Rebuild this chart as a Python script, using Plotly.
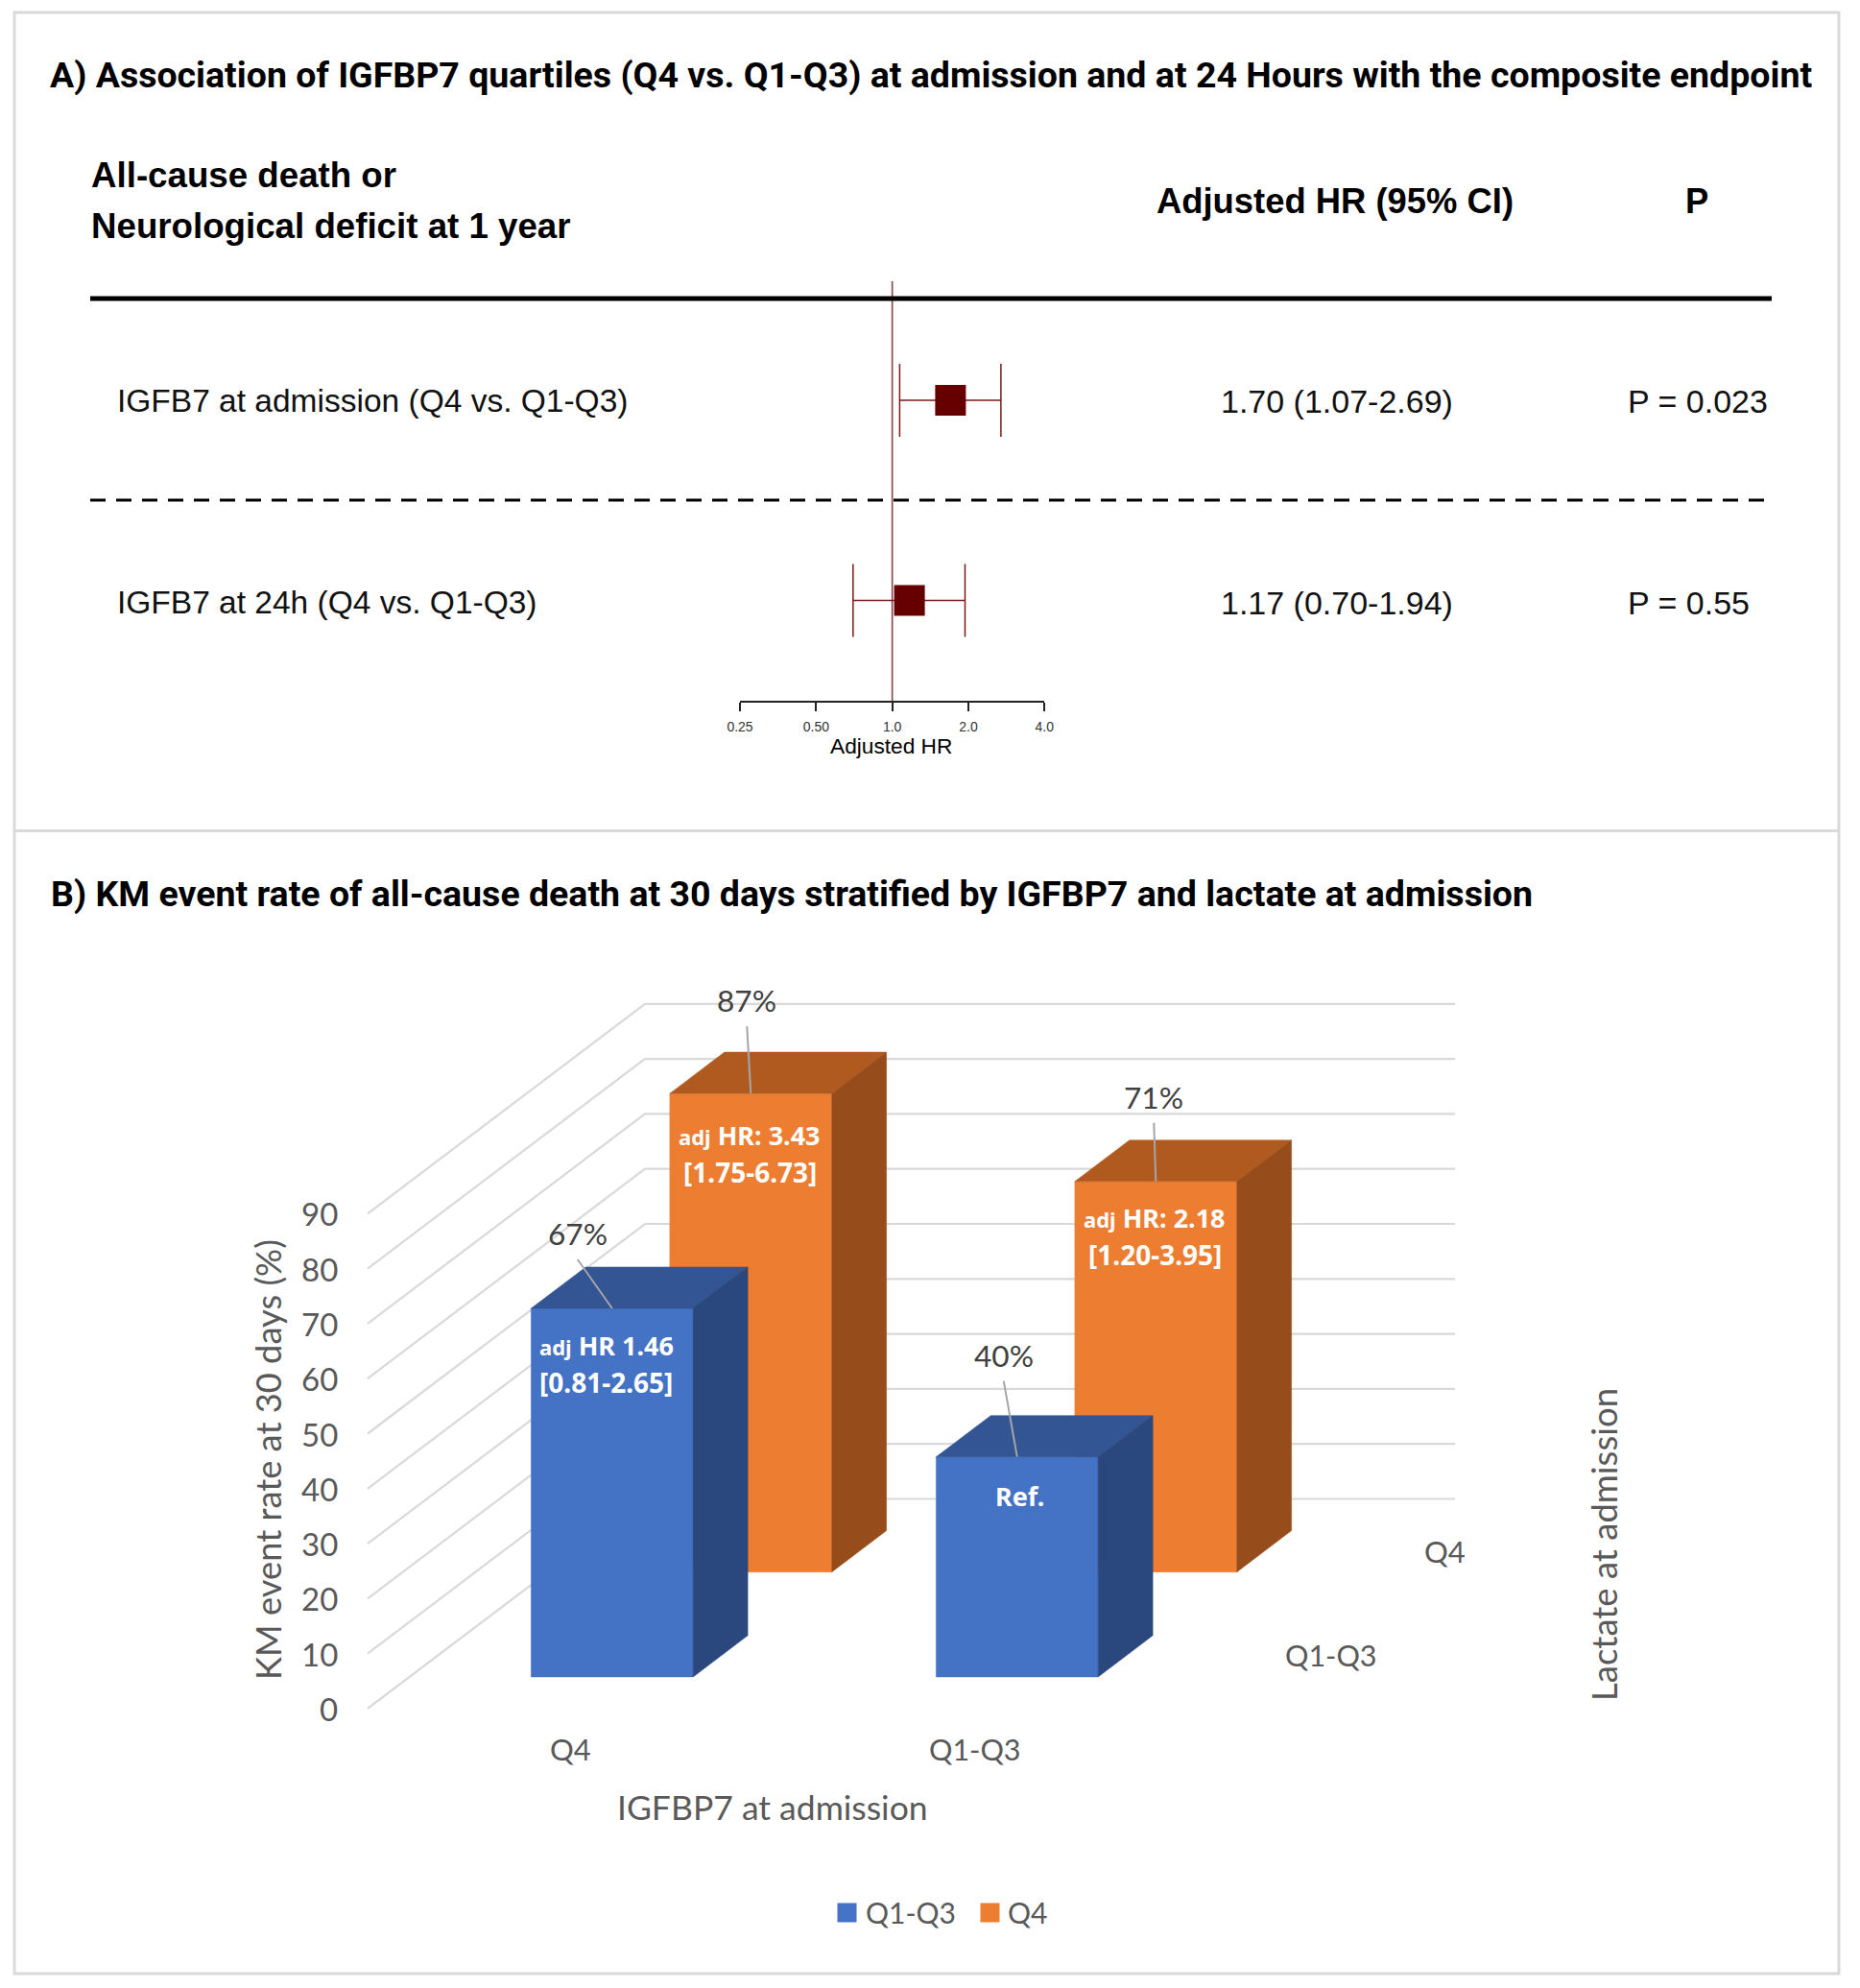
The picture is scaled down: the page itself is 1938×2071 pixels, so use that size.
import math
import plotly.graph_objects as go

# ---------- data ----------
row_labels = ["IGFB7 at admission (Q4 vs. Q1-Q3)", "IGFB7 at 24h (Q4 vs. Q1-Q3)"]
hr = [1.70, 1.17]
ci_low = [1.07, 0.70]
ci_high = [2.69, 1.94]
p_labels = ["P = 0.023", "P = 0.55"]
forest_ticks = [0.25, 0.5, 1.0, 2.0, 4.0]
forest_ticktext = ["0.25", "0.50", "1.0", "2.0", "4.0"]

igfbp7_cats = ["Q4", "Q1-Q3"]
lactate_cats = ["Q1-Q3", "Q4"]
rate_q1q3 = [67, 40]
rate_q4 = [87, 71]
grid_values = [0, 10, 20, 30, 40, 50, 60, 70, 80, 90]
ADJ = '<span style="font-size:22px">adj</span>'
hr_text_q1q3 = [[ADJ + " HR 1.46", "[0.81-2.65]"], ["Ref."]]
hr_text_q4 = [[ADJ + " HR: 3.43", "[1.75-6.73]"], [ADJ + " HR: 2.18", "[1.20-3.95]"]]

# ---------- page geometry ----------
W, H = 1938, 2071
SANS = "Liberation Sans"
ROB = "Roboto"
LAT = "Lato"
GREY = "#595959"

# oblique projection of the Excel-style 3D chart
X0, Y0 = 383.0, 1780.0      # front-left floor corner
CAT_W = 422.0               # width of a category on the floor
DX, DY = 289.0, 218.5       # floor depth vector
UNIT = 5.73                 # px per % point
BAR_W = 0.40                # bar width, share of category
BAR_D = 0.197               # bar depth, share of floor depth
DEPTHS = [0.25, 0.75]       # centres of the two lactate rows


def proj(c, d, v):
    return X0 + CAT_W * c + DX * d, Y0 - DY * d - UNIT * v


fig = go.Figure()

# ---------- panel A: forest ----------
fig.add_trace(go.Scatter(x=[1, 1], y=[-0.595, 1.501], mode="lines", xaxis="x", yaxis="y",
                         line=dict(color="#8a4444", width=1.6), hoverinfo="skip", showlegend=False,
                         cliponaxis=False))
fig.add_trace(go.Scatter(
    x=hr, y=[0, 1], mode="markers", xaxis="x", yaxis="y", showlegend=False, cliponaxis=False,
    marker=dict(symbol="square", size=32, color="#660000", line=dict(width=0)),
    error_x=dict(type="data", symmetric=False,
                 array=[h - m for h, m in zip(ci_high, hr)],
                 arrayminus=[m - l for m, l in zip(hr, ci_low)],
                 color="#7d1a1a", thickness=1.5, width=38),
))

# ---------- panel B: grid ----------
gx, gy = [], []
for v in grid_values:
    for c, d in [(0, 0), (0, 1), (2, 1)]:
        px, py = proj(c, d, v)
        gx.append(px)
        gy.append(py)
    gx.append(None)
    gy.append(None)
fig.add_trace(go.Scatter(x=gx, y=gy, mode="lines", xaxis="x2", yaxis="y2", showlegend=False,
                         hoverinfo="skip", line=dict(color="#d9d9d9", width=2.2)))


def add_bar(cat_i, depth_i, value, front, top, side, name):
    left = cat_i + 0.5 - BAR_W / 2
    right = cat_i + 0.5 + BAR_W / 2
    d0 = DEPTHS[depth_i] - BAR_D / 2
    d1 = DEPTHS[depth_i] + BAR_D / 2
    faces = [
        (front, [(left, d0, 0), (right, d0, 0), (right, d0, value), (left, d0, value)]),
        (top, [(left, d0, value), (right, d0, value), (right, d1, value), (left, d1, value)]),
        (side, [(right, d0, 0), (right, d1, 0), (right, d1, value), (right, d0, value)]),
    ]
    for color, pts in faces:
        xy = [proj(*p) for p in pts] + [proj(*pts[0])]
        fig.add_trace(go.Scatter(x=[p[0] for p in xy], y=[p[1] for p in xy], mode="lines",
                                 fill="toself", fillcolor=color, xaxis="x2", yaxis="y2",
                                 line=dict(color=color, width=0.5), name=name,
                                 hoverinfo="name", showlegend=False))


for i, v in enumerate(rate_q4):
    add_bar(i, 1, v, "#ED7D31", "#B05A20", "#964D1B", f"Q4 / {igfbp7_cats[i]}: {v}%")
for i, v in enumerate(rate_q1q3):
    add_bar(i, 0, v, "#4472C4", "#335593", "#2A477E", f"Q1-Q3 / {igfbp7_cats[i]}: {v}%")

# legend swatches
fig.add_trace(go.Scatter(x=[882.5], y=[1992.5], mode="markers", xaxis="x2", yaxis="y2", showlegend=False,
                         marker=dict(symbol="square", size=20, color="#4472C4", line=dict(width=0))))
fig.add_trace(go.Scatter(x=[1031.5], y=[1992.5], mode="markers", xaxis="x2", yaxis="y2", showlegend=False,
                         marker=dict(symbol="square", size=20, color="#ED7D31", line=dict(width=0))))

# ---------- text ----------
ann = []


def text(x, y, s, size, family, color="#000000", anchor="center", angle=0, bold=False):
    ann.append(dict(x=x, y=y, xref="x2", yref="y2", text=f"<b>{s}</b>" if bold else s,
                    showarrow=False, xanchor=anchor, yanchor="middle", textangle=angle,
                    font=dict(size=size, family=family, color=color)))


text(49.5, 78, "A) Association of IGFBP7 quartiles (Q4 vs. Q1-Q3) at admission and at 24 Hours with the composite endpoint",
     37.5, ROB, anchor="left", bold=True)
text(93, 182, "All-cause death or", 36.7, SANS, anchor="left", bold=True)
text(93, 235, "Neurological deficit at 1 year", 36.7, SANS, anchor="left", bold=True)
text(1391, 209, "Adjusted HR (95% CI)", 36.4, SANS, bold=True)
text(1768, 209, "P", 36.4, SANS, bold=True)

for r, ypos in enumerate([417.5, 627.5]):
    text(120, ypos, row_labels[r], 33.5, SANS, color="#111111", anchor="left")
    text(1270, ypos, f"{hr[r]:.2f} ({ci_low[r]:.2f}-{ci_high[r]:.2f})", 34, SANS, color="#111111", anchor="left")
    text(1694, ypos, p_labels[r], 34, SANS, color="#111111", anchor="left")

text(928, 777, "Adjusted HR", 22.7, SANS)

text(51, 931, "B) KM event rate of all-cause death at 30 days stratified by IGFBP7 and lactate at admission",
     37.5, ROB, anchor="left", bold=True)

for v in grid_values:
    _, py = proj(0, 0, v)
    text(353.5, py, str(v), 33, LAT, color=GREY, anchor="right")
text(279, 1521, "KM event rate at 30 days (%)", 36.3, LAT, color=GREY, angle=-90)
text(594, 1822, igfbp7_cats[0], 31, LAT, color=GREY)
text(1016, 1822, igfbp7_cats[1], 30.5, LAT, color=GREY)
text(804.5, 1882, "IGFBP7 at admission", 35.5, LAT, color=GREY)
text(1505, 1616, lactate_cats[1], 31, LAT, color=GREY)
text(1387, 1724, lactate_cats[0], 30.5, LAT, color=GREY)
text(1671, 1609, "Lactate at admission", 36.5, LAT, color=GREY, angle=-90)
text(899.5, 1992, "Q1-Q3", 30, LAT, color=GREY, anchor="left")
text(1047.5, 1992, "Q4", 30, LAT, color=GREY, anchor="left")

# value labels with leaders
label_offsets = {(1, 0): (-4, -97), (1, 1): (-2, -88), (0, 0): (-36, -78), (0, 1): (-14, -106)}
inner_offsets = {(1, 0): (-1, 43), (1, 1): (-1, 38), (0, 0): (-6, 39), (0, 1): (3, 41)}
for depth_i, series, texts in [(1, rate_q4, hr_text_q4), (0, rate_q1q3, hr_text_q1q3)]:
    for cat_i, v in enumerate(series):
        d0 = DEPTHS[depth_i] - BAR_D / 2
        cx, cy = proj(cat_i + 0.5, d0, v)
        ox, oy = label_offsets[(depth_i, cat_i)]
        fig.add_trace(go.Scatter(x=[cx + ox, cx], y=[cy + oy + 27, cy], mode="lines", xaxis="x2", yaxis="y2",
                                 showlegend=False, hoverinfo="skip",
                                 line=dict(color="#a6a6a6", width=2)))
        text(cx + ox, cy + oy, f"{v}%", 31.6, LAT, color="#404040")
        ix, iy = inner_offsets[(depth_i, cat_i)]
        lines = texts[cat_i]
        for k, s in enumerate(lines):
            text(cx + ix, cy + iy + 38.5 * k, s, 27 if k == 0 else 28, "Noto Sans", color="#ffffff", bold=True)

fig.update_layout(
    width=W, height=H, margin=dict(l=0, r=0, t=0, b=0, autoexpand=False), autosize=False,
    paper_bgcolor="white", plot_bgcolor="rgba(0,0,0,0)", showlegend=False, annotations=ann,
    xaxis=dict(type="log", domain=[771 / W, 1088.3 / W], range=[math.log10(0.25), math.log10(4)],
               tickmode="array", tickvals=forest_ticks, ticktext=forest_ticktext,
               ticks="outside", ticklen=9, tickwidth=1.5, tickcolor="#222222",
               showline=True, linecolor="#222222", linewidth=1.5, showgrid=False, zeroline=False,
               tickfont=dict(size=14, family=SANS, color="#333333"), ticklabelstandoff=4,
               anchor="y", fixedrange=True),
    yaxis=dict(domain=[1 - 730 / H, 1 - 293 / H], range=[1.501, -0.595], visible=False, anchor="x", fixedrange=True),
    xaxis2=dict(domain=[0, 1], range=[0, W], visible=False, anchor="y2", fixedrange=True),
    yaxis2=dict(domain=[0, 1], range=[H, 0], visible=False, anchor="x2", fixedrange=True),
    shapes=[
        dict(type="rect", xref="x2", yref="y2", x0=15, x1=1916, y0=13, y1=2056,
             line=dict(color="#d9d9d9", width=3), layer="below"),
        dict(type="line", xref="x2", yref="y2", x0=15, x1=1916, y0=865.5, y1=865.5,
             line=dict(color="#d9d9d9", width=3), layer="below"),
        dict(type="line", xref="x2", yref="y2", x0=94, x1=1846, y0=311, y1=311,
             line=dict(color="#000000", width=5), layer="below"),
        dict(type="line", xref="x2", yref="y2", x0=94, x1=1846, y0=521, y1=521,
             line=dict(color="#000000", width=3, dash="16px,11px"), layer="below"),
    ],
)

fig.write_html("out.html", config={"displayModeBar": False}, post_script="document.body.style.margin='0';")
